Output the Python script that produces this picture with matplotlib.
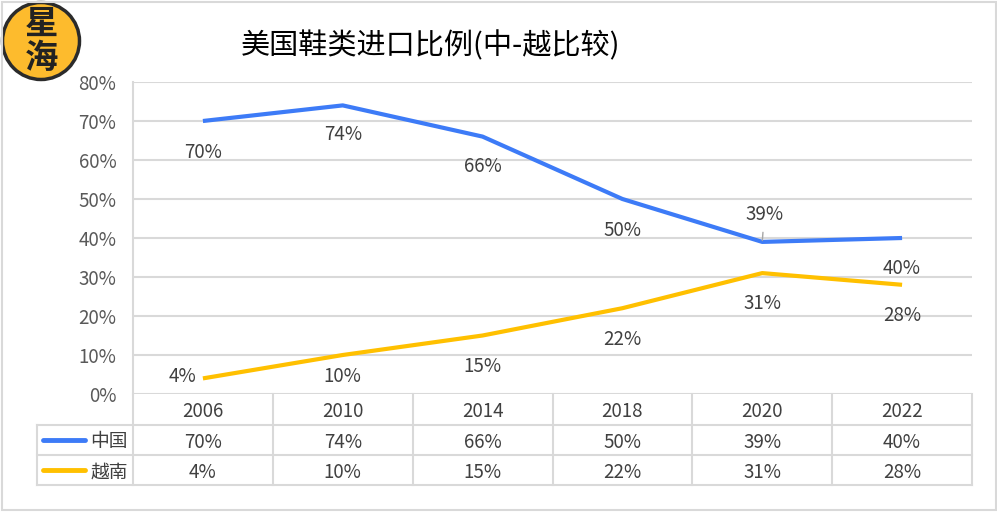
import matplotlib
matplotlib.use("Agg")
import matplotlib.pyplot as plt
from matplotlib.patches import Circle, Rectangle
from matplotlib.ticker import PercentFormatter

plt.rcParams['font.family'] = ['Noto Sans CJK SC', 'DejaVu Sans']

# ── Data ───────────────────────────────────────────────────────────────────
years   = ['2006', '2010', '2014', '2018', '2020', '2022']
china   = [0.70, 0.74, 0.66, 0.50, 0.39, 0.40]
vietnam = [0.04, 0.10, 0.15, 0.22, 0.31, 0.28]
series_names = ['中国', '越南']
title = '美国鞋类进口比例(中-越比较)'

# label offsets in pixels (dx, dy) relative to each point
china_offs   = [(0, -31), (0, -29), (0, -30), (0, -31), (2, 27), (0, -31)]
vietnam_offs = [(-20, 2), (0, -21), (0, -31), (0, -31), (0, -30), (0, -31)]

blue   = '#3D7BF7'
yellow = '#FFC000'
grid_c = '#D9D9D9'
txt_c  = '#404040'
fs     = 13.5

W, H = 997, 525
fig = plt.figure(figsize=(W / 100, H / 100), dpi=100)

# axes placed in pixel terms
left, top, right, bottom = 133, 82, 972, 394
ax = fig.add_axes([left / W, 1 - bottom / H, (right - left) / W, (bottom - top) / H])
ax.set_xlim(-0.5, len(years) - 0.5)
ax.set_ylim(0, 0.8)
x = list(range(len(years)))

ax.plot(x, china, color=blue, lw=3, solid_capstyle='butt', zorder=3)
ax.plot(x, vietnam, color=yellow, lw=3, solid_capstyle='butt', zorder=3)

for xi, v, (dx, dy) in zip(x, china, china_offs):
    if dy > 0:
        ax.annotate(f'{v:.0%}', (xi, v), xytext=(dx, dy), textcoords='offset pixels',
                    ha='center', va='center', fontsize=fs, color=txt_c,
                    arrowprops=dict(arrowstyle='-', color='#A6A6A6', lw=1,
                                    shrinkA=3, shrinkB=1))
    else:
        ax.annotate(f'{v:.0%}', (xi, v), xytext=(dx, dy), textcoords='offset pixels',
                    ha='center', va='center', fontsize=fs, color=txt_c)
for xi, v, (dx, dy) in zip(x, vietnam, vietnam_offs):
    ax.annotate(f'{v:.0%}', (xi, v), xytext=(dx, dy), textcoords='offset pixels',
                ha='center', va='center', fontsize=fs, color=txt_c)

ax.set_yticks([i / 10 for i in range(9)])
ax.yaxis.set_major_formatter(PercentFormatter(1.0, decimals=0))
ax.tick_params(axis='y', length=0, pad=12, labelsize=fs, labelcolor='#595959')
ax.set_xticks([])
ax.grid(axis='y', color=grid_c, lw=1.5)
ax.set_axisbelow(True)
for s in ['top', 'right', 'bottom']:
    ax.spines[s].set_visible(False)
ax.spines['left'].set_color(grid_c)
ax.spines['left'].set_linewidth(1.5)

# ── Data table under the axes ──────────────────────────────────────────────
ph = bottom - top                      # pixels per axes unit (y)
pw = (right - left) / len(years)       # pixels per category
r1, r2, r3 = -31 / ph, -61 / ph, -91 / ph
tshift = -2 / ph                       # font sits a little high with va='center'
xleft = -0.5 - (left - 37) / pw
tr = ax.get_xaxis_transform()
lk = dict(color=grid_c, lw=1.5, transform=tr, clip_on=False)
for yy in [r1, r2, r3]:
    ax.plot([xleft, len(years) - 0.5], [yy, yy], **lk)
for i in range(len(years) + 1):
    ax.plot([i - 0.5, i - 0.5], [0, r3], **lk)
ax.plot([xleft, xleft], [r1, r3], **lk)

for xi, yr, c, v in zip(x, years, china, vietnam):
    ax.text(xi, r1 / 2 + tshift, yr, transform=tr, ha='center', va='center',
            fontsize=fs, color=txt_c)
    ax.text(xi, (r1 + r2) / 2 + tshift, f'{c:.0%}', transform=tr, ha='center', va='center',
            fontsize=fs, color=txt_c)
    ax.text(xi, (r2 + r3) / 2 + tshift, f'{v:.0%}', transform=tr, ha='center', va='center',
            fontsize=fs, color=txt_c)

for name, col, ymid in zip(series_names, [blue, yellow], [(r1 + r2) / 2, (r2 + r3) / 2]):
    ax.plot([xleft + 6 / pw, xleft + 48 / pw], [ymid, ymid], color=col, lw=3.5,
            transform=tr, clip_on=False, solid_capstyle='round')
    ax.text(-0.5 - 5 / pw, ymid + tshift, name, transform=tr, ha='right', va='center',
            fontsize=fs, color=txt_c)

# ── Title, frame, logo ─────────────────────────────────────────────────────
fig.text(431 / W, 1 - 46 / H, title, ha='center', va='center', fontsize=21, color='black')

fig.patches.append(Rectangle((2 / W, 1 - 510 / H), 994 / W, 508 / H, transform=fig.transFigure,
                             fill=False, ec=grid_c, lw=1.5))

lax = fig.add_axes([0, 1 - 83 / H, 83 / W, 83 / H])
lax.set_xlim(0, 83)
lax.set_ylim(83, 0)
lax.set_aspect('equal')
lax.axis('off')
lax.add_patch(Circle((41, 41), 38.5, fc='#FDBB2D', ec='#2B2B2B', lw=2.5))
lax.text(41, 24, '星', ha='center', va='center', fontsize=24, fontweight='bold', color='#222222')
lax.text(41, 58, '海', ha='center', va='center', fontsize=24, fontweight='bold', color='#222222')

fig.savefig('out.png', dpi=100)
